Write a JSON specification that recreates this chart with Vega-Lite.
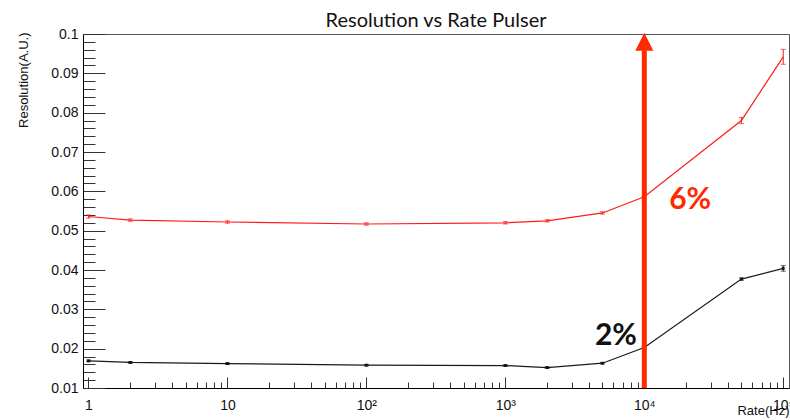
{
  "$schema": "https://vega.github.io/schema/vega-lite/v6.json",
  "width": 706,
  "height": 354,
  "autosize": {"type": "none"},
  "padding": {"left": 83, "top": 34, "right": 1, "bottom": 32},
  "background": "white",
  "title": {
    "text": "Resolution vs Rate Pulser",
    "font": "Lato",
    "fontSize": 20,
    "fontWeight": "normal",
    "color": "#111111",
    "anchor": "middle",
    "frame": "group",
    "baseline": "alphabetic",
    "offset": 6,
    "dy": 26
  },
  "config": {
    "view": {"stroke": "#555555", "strokeWidth": 1},
    "axis": {
      "grid": false,
      "domainColor": "#000000",
      "domainWidth": 1,
      "tickColor": "#333333",
      "tickWidth": 1,
      "labelFont": "Liberation Sans",
      "labelFontSize": 14,
      "labelColor": "#111111",
      "labelOverlap": false,
      "titleFont": "Liberation Sans",
      "titleFontSize": 13,
      "titleFontWeight": "normal",
      "titleColor": "#111111"
    }
  },
  "datasets": {
    "series": [
      {"series": "red", "rate": 1, "res": 0.0536, "lo": 0.0532, "hi": 0.054},
      {"series": "red", "rate": 2, "res": 0.0527, "lo": 0.0524, "hi": 0.053},
      {"series": "red", "rate": 10, "res": 0.0522, "lo": 0.0519, "hi": 0.0525},
      {"series": "red", "rate": 100, "res": 0.0517, "lo": 0.0514, "hi": 0.052},
      {"series": "red", "rate": 1000, "res": 0.052, "lo": 0.0517, "hi": 0.0523},
      {"series": "red", "rate": 2000, "res": 0.0525, "lo": 0.0522, "hi": 0.0528},
      {"series": "red", "rate": 5000, "res": 0.0545, "lo": 0.0542, "hi": 0.0548},
      {"series": "red", "rate": 10000, "res": 0.0586, "lo": 0.0583, "hi": 0.0589},
      {"series": "red", "rate": 50000, "res": 0.078, "lo": 0.0772, "hi": 0.0788},
      {"series": "red", "rate": 100000, "res": 0.0942, "lo": 0.0923, "hi": 0.0961},
      {"series": "black", "rate": 1, "res": 0.0169, "lo": 0.0167, "hi": 0.0171},
      {"series": "black", "rate": 2, "res": 0.0165, "lo": 0.0163, "hi": 0.0167},
      {"series": "black", "rate": 10, "res": 0.0162, "lo": 0.016, "hi": 0.0164},
      {"series": "black", "rate": 100, "res": 0.0158, "lo": 0.0156, "hi": 0.016},
      {"series": "black", "rate": 1000, "res": 0.0157, "lo": 0.0155, "hi": 0.0159},
      {"series": "black", "rate": 2000, "res": 0.0152, "lo": 0.015, "hi": 0.0154},
      {"series": "black", "rate": 5000, "res": 0.0163, "lo": 0.0161, "hi": 0.0165},
      {"series": "black", "rate": 10000, "res": 0.0203, "lo": 0.0201, "hi": 0.0205},
      {"series": "black", "rate": 50000, "res": 0.0377, "lo": 0.0374, "hi": 0.038},
      {"series": "black", "rate": 100000, "res": 0.0404, "lo": 0.0397, "hi": 0.0411}
    ],
    "arrow": [{"rate": 10000, "res": 0.01, "top": 0.0958, "head": 0.098}],
    "notes": [
      {"label": "6%", "rate": 21400, "res": 0.0577, "tone": "red"},
      {"label": "2%", "rate": 6250, "res": 0.0231, "tone": "black"}
    ]
  },
  "encoding": {
    "x": {
      "field": "rate",
      "type": "quantitative",
      "scale": {"type": "log", "domain": [0.913, 110000], "nice": false},
      "axis": {
        "values": [1, 2, 3, 4, 5, 6, 7, 8, 9, 10, 20, 30, 40, 50, 60, 70, 80, 90, 100, 200, 300, 400, 500, 600, 700, 800, 900, 1000, 2000, 3000, 4000, 5000, 6000, 7000, 8000, 9000, 10000, 20000, 30000, 40000, 50000, 60000, 70000, 80000, 90000, 100000],
        "labelExpr": "datum.value == 1 ? '1' : datum.value == 10 ? '10' : datum.value == 100 ? '10²' : datum.value == 1000 ? '10³' : datum.value == 10000 ? '10⁴' : datum.value == 100000 ? '10⁵' : ''",
        "tickSize": {"condition": {"test": "indexof([1,10,100,1000,10000,100000], datum.value) >= 0", "value": -11}, "value": -6},
        "labelPadding": 21,
        "labelFlush": false,
        "title": "Rate(Hz)",
        "titleAnchor": "end",
        "titleAlign": "right",
        "titleBaseline": "alphabetic",
        "titleX": 706,
        "titleY": 26
      }
    },
    "y": {
      "field": "res",
      "type": "quantitative",
      "scale": {"domain": [0.01, 0.1], "nice": false, "zero": false},
      "axis": {
        "values": [0.01, 0.012, 0.014, 0.016, 0.018, 0.02, 0.022, 0.024, 0.026, 0.028, 0.03, 0.032, 0.034, 0.036, 0.038, 0.04, 0.042, 0.044, 0.046, 0.048, 0.05, 0.052, 0.054, 0.056, 0.058, 0.06, 0.062, 0.064, 0.066, 0.068, 0.07, 0.072, 0.074, 0.076, 0.078, 0.08, 0.082, 0.084, 0.086, 0.088, 0.09, 0.092, 0.094, 0.096, 0.098, 0.1],
        "labelExpr": "abs(datum.value * 100 - round(datum.value * 100)) < 0.01 ? format(datum.value, '~g') : ''",
        "tickSize": {"condition": {"test": "abs(datum.value * 100 - round(datum.value * 100)) < 0.01", "value": -22}, "value": -12},
        "labelPadding": 27,
        "labelFlush": false,
        "title": "Resolution(A.U.)",
        "titleAngle": -90,
        "titleAlign": "right",
        "titleBaseline": "middle",
        "titleX": -60,
        "titleY": -2
      }
    }
  },
  "layer": [
    {
      "data": {"name": "series"},
      "mark": {"type": "line", "strokeWidth": 1.2},
      "encoding": {
        "color": {
          "field": "series",
          "type": "nominal",
          "scale": {"domain": ["red", "black"], "range": ["#ff1a1a", "#1a1a1a"]},
          "legend": null
        }
      }
    },
    {
      "data": {"name": "series"},
      "mark": {"type": "rule", "strokeWidth": 1},
      "encoding": {
        "y": {"field": "lo", "type": "quantitative"},
        "y2": {"field": "hi"},
        "color": {"field": "series", "type": "nominal", "legend": null}
      }
    },
    {
      "data": {"name": "series"},
      "mark": {"type": "tick", "orient": "horizontal", "size": 5, "thickness": 1},
      "encoding": {
        "y": {"field": "lo", "type": "quantitative"},
        "color": {"field": "series", "type": "nominal", "legend": null}
      }
    },
    {
      "data": {"name": "series"},
      "mark": {"type": "tick", "orient": "horizontal", "size": 5, "thickness": 1},
      "encoding": {
        "y": {"field": "hi", "type": "quantitative"},
        "color": {"field": "series", "type": "nominal", "legend": null}
      }
    },
    {
      "data": {"name": "series"},
      "transform": [{"filter": "datum.series == 'black'"}],
      "mark": {"type": "point", "shape": "square", "filled": true, "size": 8, "opacity": 1, "color": "#111111"}
    },
    {
      "data": {"name": "arrow"},
      "mark": {"type": "rule", "strokeWidth": 5, "color": "#ff2a00"},
      "encoding": {
        "y2": {"field": "top"}
      }
    },
    {
      "data": {"name": "arrow"},
      "mark": {"type": "point", "shape": "M-1,1L0,-1L1,1Z", "filled": true, "size": 324, "opacity": 1, "color": "#ff2a00"},
      "encoding": {
        "y": {"field": "head", "type": "quantitative"}
      }
    },
    {
      "data": {"name": "notes"},
      "transform": [{"filter": "datum.tone == 'red'"}],
      "mark": {"type": "text", "font": "Lato", "fontSize": 30, "fontWeight": "bold", "align": "center", "baseline": "middle", "color": "#ff2a00"},
      "encoding": {
        "text": {"field": "label"}
      }
    },
    {
      "data": {"name": "notes"},
      "transform": [{"filter": "datum.tone == 'black'"}],
      "mark": {"type": "text", "font": "Lato", "fontSize": 30, "fontWeight": "bold", "align": "center", "baseline": "middle", "color": "#111111"},
      "encoding": {
        "text": {"field": "label"}
      }
    }
  ]
}
